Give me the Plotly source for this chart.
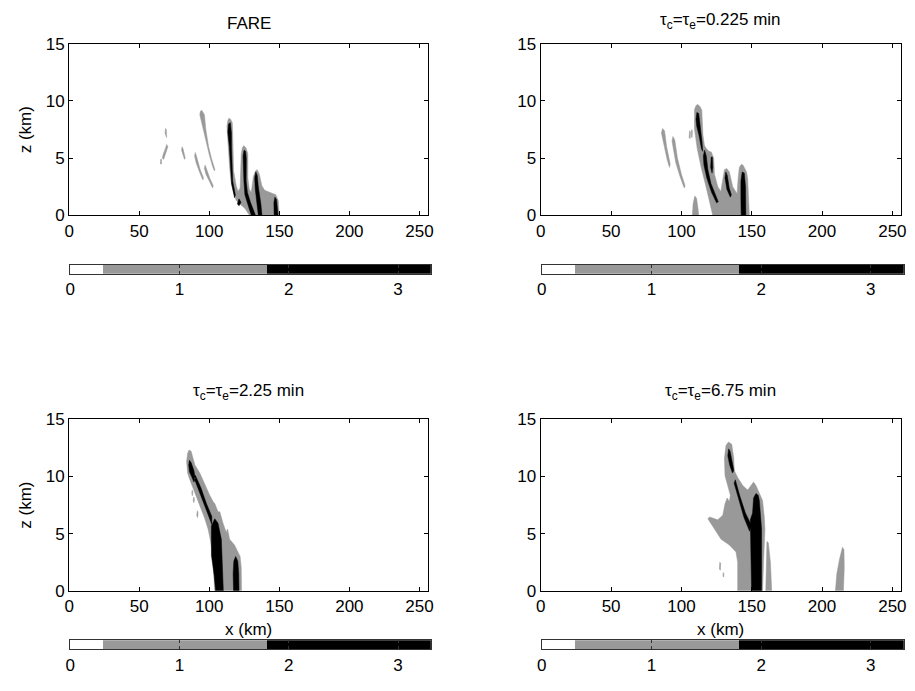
import plotly.graph_objects as go

W, H = 915, 691
GRAY = "#999999"

# ---------------- data ----------------
titles = ["FARE",
          "τ<sub>c</sub>=τ<sub>e</sub>=0.225 min",
          "τ<sub>c</sub>=τ<sub>e</sub>=2.25 min",
          "τ<sub>c</sub>=τ<sub>e</sub>=6.75 min"]
x_ticks = [0, 50, 100, 150, 200, 250]
z_ticks = [0, 5, 10, 15]
cbar_levels = [0, 0.3, 1.8, 3.3]
cbar_ticks = [0, 1, 2, 3]

# contour outlines (x km, z km)
fare_gray = [
    [(93.2, 8.8), (93.6, 9.1), (94.6, 9.2), (96.5, 8.8), (97.5, 7.5), (99.5, 6.0), (101.5, 5.0),
     (104.0, 4.0), (103.6, 3.9), (102.3, 4.3), (100.0, 5.3), (97.5, 6.5), (95.3, 7.6), (93.6, 8.4)],
    [(89.5, 5.2), (90.0, 5.5), (91.0, 5.1), (93.5, 4.0), (95.8, 3.3), (95.4, 3.1), (93.0, 3.8), (90.6, 4.6)],
    [(96.5, 4.1), (97.0, 4.4), (98.2, 4.0), (100.5, 3.2), (102.8, 2.6), (102.3, 2.4), (100.0, 3.0), (97.6, 3.6)],
    [(80.2, 5.7), (80.6, 6.0), (81.3, 5.8), (82.8, 5.0), (82.3, 4.9), (81.0, 5.3)],
    [(66.5, 5.0), (67.0, 5.3), (68.8, 5.9), (69.6, 6.2), (70.4, 6.0), (69.2, 5.5), (67.4, 4.9)],
    [(65.1, 4.5), (65.3, 4.9), (65.9, 4.9), (65.8, 4.5)],
    [(68.4, 7.2), (68.8, 7.6), (69.3, 7.5), (69.9, 6.9), (69.5, 6.8)],
    # main envelope
    [(128.7, 0.0), (125.5, 0.6), (122.8, 0.9), (119.2, 1.3), (116.9, 2.2), (115.7, 2.75), (114.5, 4.2),
     (113.3, 6.1), (112.6, 7.8), (113.2, 8.3), (114.0, 8.5), (115.2, 8.4), (116.4, 8.1), (116.9, 6.1),
     (117.3, 3.9), (119.2, 2.6), (120.5, 2.1), (122.0, 2.4), (122.1, 3.3), (122.8, 5.4), (123.6, 5.9),
     (124.6, 6.1), (126.2, 5.9), (127.5, 5.4), (127.5, 3.3), (128.5, 2.3), (129.9, 2.0), (130.5, 2.5),
     (131.5, 3.4), (133.0, 3.9), (134.2, 4.0), (135.7, 3.6), (137.5, 2.6), (139.5, 2.2), (141.6, 2.1),
     (143.5, 2.0), (145.5, 1.9), (147.5, 1.8), (149.2, 1.3), (149.9, 0.0)],
]
fare_black = [
    [(113.2, 7.3), (113.8, 8.0), (115.0, 8.1), (115.8, 7.2), (115.8, 6.0), (116.2, 4.5), (116.7, 3.0),
     (118.6, 1.8), (118.0, 1.55), (115.9, 2.8), (115.2, 4.5), (114.3, 6.0)],
    [(120.0, 1.0), (121.3, 0.85), (122.6, 1.15), (121.2, 1.45)],
    [(124.1, 5.2), (124.8, 5.7), (125.9, 5.6), (126.4, 5.0), (126.3, 3.0), (127.2, 2.0), (129.5, 1.1),
     (133.0, 0.0), (130.0, 0.0), (127.5, 0.9), (125.4, 1.8), (124.7, 3.0)],
    [(132.4, 3.3), (133.2, 3.8), (134.2, 3.5), (135.0, 2.5), (136.8, 1.0), (137.6, 0.0), (135.0, 0.0),
     (134.0, 1.0), (132.8, 2.3)],
    [(146.1, 1.1), (146.8, 1.6), (148.0, 1.4), (148.9, 0.5), (149.1, 0.0), (146.3, 0.0)],
]

tau0225_gray = [
    [(85.8, 7.2), (86.6, 7.6), (88.0, 7.4), (89.5, 6.0), (92.0, 4.5), (91.5, 4.2), (89.8, 4.9), (87.8, 6.0)],
    [(93.3, 6.5), (94.0, 6.9), (95.3, 6.6), (97.2, 5.0), (100.0, 3.6), (102.6, 2.6), (102.0, 2.4),
     (99.0, 3.4), (96.0, 4.6), (94.0, 5.8)],
    [(105.5, 6.8), (105.8, 7.4), (106.4, 7.3), (106.2, 6.7)],
    [(107.0, 6.9), (107.3, 7.5), (107.8, 7.4), (107.6, 6.8)],
    [(107.8, 0.0), (108.3, 1.0), (109.5, 1.7), (110.8, 1.5), (111.8, 0.6), (112.3, 0.0)],
    # main envelope
    [(122.3, 0.0), (120.0, 1.33), (117.6, 2.46), (114.1, 4.16), (111.2, 5.86), (109.3, 7.56), (109.3, 9.26),
     (110.4, 9.6), (111.7, 9.7), (113.3, 9.5), (114.5, 9.2), (115.3, 7.0), (116.4, 6.1), (117.6, 5.86),
     (119.5, 5.6), (121.2, 5.55), (123.0, 5.0), (123.5, 3.6), (125.9, 2.5), (128.0, 2.1), (129.6, 3.2),
     (130.6, 4.0), (132.2, 4.1), (134.1, 3.8), (136.5, 2.5), (139.6, 1.9), (140.3, 3.2), (141.2, 4.2),
     (142.5, 4.45), (143.8, 4.4), (146.3, 3.8), (147.1, 3.2), (147.6, 1.9), (148.3, 0.0)],
]
tau0225_black = [
    [(110.4, 8.4), (111.0, 9.0), (112.3, 8.9), (113.5, 7.8), (114.6, 6.5), (115.2, 5.6), (114.3, 5.8),
     (112.5, 7.0), (110.9, 7.8)],
    [(115.6, 5.2), (116.5, 5.7), (117.7, 5.2), (118.8, 4.0), (121.0, 2.8), (124.5, 1.7), (126.2, 1.2),
     (125.0, 1.1), (121.5, 2.0), (118.0, 3.3), (116.0, 4.4)],
    [(120.8, 4.2), (121.2, 5.1), (122.0, 5.1), (122.3, 4.2), (121.8, 3.7)],
    [(131.0, 3.3), (131.6, 3.8), (132.6, 3.5), (134.0, 2.4), (135.5, 1.8), (134.8, 1.6), (132.3, 2.3)],
    [(142.3, 3.0), (143.2, 3.8), (144.7, 3.7), (145.6, 2.5), (145.8, 0.0), (142.5, 0.0), (142.3, 1.5)],
]

tau225_gray = [
    [(103.9, 0.0), (103.0, 1.5), (102.5, 3.1), (100.5, 4.6), (99.1, 5.4), (96.5, 6.4), (93.2, 7.4),
     (90.5, 8.3), (87.8, 9.2), (86.1, 9.7), (84.5, 10.3), (83.8, 11.3), (84.5, 12.0), (85.5, 12.3),
     (87.0, 12.2), (88.3, 11.6), (89.7, 11.0), (93.2, 10.3), (95.6, 9.6), (98.0, 8.9), (100.3, 8.35),
     (102.7, 7.8), (104.0, 7.6), (106.2, 6.9), (107.5, 6.9), (109.8, 5.9), (112.1, 5.1), (113.0, 5.4),
     (114.5, 4.5), (118.0, 4.0), (120.4, 3.4), (122.0, 3.0), (122.8, 2.0), (123.0, 0.0)],
    [(88.5, 7.9), (88.9, 8.2), (89.4, 8.0), (89.0, 7.7)],
    [(91.0, 6.6), (91.5, 7.0), (92.0, 6.8), (91.6, 6.4)],
    [(87.5, 8.5), (87.8, 8.8), (88.2, 8.6), (87.9, 8.3)],
]
tau225_black = [
    [(85.3, 11.0), (85.8, 11.4), (87.0, 11.2), (89.0, 10.5), (90.0, 9.8), (89.0, 9.5), (87.3, 10.0), (85.8, 10.4)],
    [(89.3, 9.8), (93.0, 8.6), (97.0, 7.3), (100.5, 6.2), (101.8, 5.8), (101.8, 6.5), (98.0, 7.6),
     (94.0, 9.0), (90.0, 10.1)],
    [(104.5, 0.0), (103.4, 1.4), (101.5, 3.1), (101.5, 5.66), (103.9, 6.3), (106.2, 5.9), (108.6, 4.5),
     (109.6, 2.0), (110.0, 0.0)],
    [(117.3, 0.0), (117.0, 1.5), (117.5, 2.6), (118.8, 3.0), (120.3, 2.6), (121.0, 1.5), (121.2, 0.0)],
]

tau675_gray = [
    [(140.0, 0.0), (140.0, 2.5), (138.8, 3.4), (134.1, 4.0), (128.2, 4.5), (124.7, 5.2), (121.1, 5.8),
     (118.8, 6.3), (120.0, 6.45), (125.8, 6.2), (129.4, 6.6), (131.0, 7.6), (132.5, 8.1), (134.1, 7.8),
     (134.8, 8.35), (132.9, 9.2), (131.0, 10.05), (130.6, 11.6), (131.7, 12.7), (133.4, 13.0),
     (135.8, 12.8), (137.2, 11.6), (137.6, 10.5), (140.0, 9.9), (143.6, 9.2), (147.1, 8.8), (149.9, 9.2),
     (151.3, 9.5), (153.0, 9.2), (155.4, 8.6), (157.7, 7.9), (158.9, 6.5), (159.4, 5.4), (158.4, 2.5),
     (157.7, 0.0)],
    [(160.0, 0.0), (160.2, 2.5), (160.8, 4.3), (161.8, 4.2), (163.3, 2.5), (164.2, 0.0)],
    [(209.5, 0.0), (210.5, 1.5), (212.5, 2.8), (214.5, 3.8), (215.6, 3.6), (215.8, 2.0), (215.2, 0.0)],
    [(127.0, 1.9), (127.3, 2.5), (127.9, 2.4), (127.7, 1.8)],
    [(129.5, 1.3), (129.8, 1.6), (130.2, 1.5), (130.0, 1.2)],
]
tau675_black = [
    [(133.0, 11.8), (133.6, 12.4), (134.6, 12.2), (136.3, 11.2), (137.3, 10.5), (136.3, 10.3), (134.3, 11.0)],
    [(137.5, 9.4), (138.3, 9.7), (141.5, 8.3), (145.5, 6.8), (149.5, 5.8), (148.5, 5.2), (144.5, 6.4), (140.5, 8.0)],
    [(149.9, 0.0), (149.5, 2.5), (149.0, 6.2), (150.6, 6.8), (151.3, 8.1), (153.0, 8.5), (154.6, 8.35),
     (155.4, 7.9), (157.0, 5.4), (157.0, 0.0)],
]

panels = [(fare_gray, fare_black), (tau0225_gray, tau0225_black),
          (tau225_gray, tau225_black), (tau675_gray, tau675_black)]

# ---------------- layout geometry (pixels) ----------------
axes_px = [(65, 35.7, 428, 212.3), (542.3, 35.7, 906.7, 212.3),
           (65, 421.7, 428, 598.3), (542.3, 421.7, 906.7, 598.3)]
cbar_px = [(66, 263.3, 431, 272.3), (543.3, 263.3, 909.7, 272.3),
           (66, 649, 431, 658.3), (543.3, 649, 909.7, 658.3)]
# (y pixel, anchor) for each title
title_pos = [(15, "middle"), (-1, "top"), (394, "middle"), (394, "middle")]


def px_x(p):
    return p / W


def px_y(p):
    return 1 - p / H


def flatten(polys):
    xs, ys = [], []
    for poly in polys:
        for (a, b) in poly:
            xs.append(a)
            ys.append(b)
        xs.append(poly[0][0])
        ys.append(poly[0][1])
        xs.append(None)
        ys.append(None)
    return xs, ys


FONT = "Liberation Sans, Arial, Helvetica, sans-serif"
FS = 17
fig = go.Figure()
layout = dict(width=W, height=H, margin=dict(l=0, r=0, t=0, b=0),
              paper_bgcolor="white", plot_bgcolor="white", showlegend=False,
              font=dict(family=FONT, size=FS, color="black"))

annotations = []
for i, (gp, bp) in enumerate(panels):
    n = i + 1
    xa = "x" if n == 1 else f"x{n}"
    ya = "y" if n == 1 else f"y{n}"
    gx, gy = flatten(gp)
    bx, by = flatten(bp)
    fig.add_trace(go.Scatter(x=gx, y=gy, mode="lines", fill="toself", fillcolor=GRAY,
                             line=dict(color=GRAY, width=0.5), xaxis=xa, yaxis=ya, hoverinfo="skip"))
    fig.add_trace(go.Scatter(x=bx, y=by, mode="lines", fill="toself", fillcolor="black",
                             line=dict(color="black", width=0.5), xaxis=xa, yaxis=ya, hoverinfo="skip"))
    l, t, r, b = axes_px[i]
    common = dict(showline=True, linecolor="black", linewidth=1.2, mirror="ticks",
                  ticks="inside", ticklen=4, tickwidth=1, tickcolor="black",
                  showgrid=False, zeroline=False, tickfont=dict(size=FS, family=FONT))
    layout[f"xaxis{n}"] = dict(domain=[px_x(l), px_x(r)], range=[0, 256], tickvals=x_ticks,
                               anchor=ya, **common)
    layout[f"yaxis{n}"] = dict(domain=[px_y(b), px_y(t)], range=[0, 15], tickvals=z_ticks,
                               anchor=xa, **common)

    # colorbar
    m = n + 4
    cxa, cya = f"x{m}", f"y{m}"
    widths = [cbar_levels[k + 1] - cbar_levels[k] for k in range(3)]
    fig.add_trace(go.Bar(y=[0, 0, 0], x=widths, base=cbar_levels[:3], orientation="h",
                         marker=dict(color=["white", GRAY, "black"], line=dict(width=0)),
                         width=1, xaxis=cxa, yaxis=cya, hoverinfo="skip"))
    cl, ct, cr, cb = cbar_px[i]
    layout[f"xaxis{m}"] = dict(domain=[px_x(cl), px_x(cr)], range=[cbar_levels[0], cbar_levels[-1]],
                               tickvals=cbar_ticks, ticks="inside", ticklen=3, tickcolor="#333",
                               showline=True, linecolor="#333", linewidth=1, mirror="ticks",
                               showgrid=False, zeroline=False, anchor=cya,
                               tickfont=dict(size=FS, family=FONT))
    layout[f"yaxis{m}"] = dict(domain=[px_y(cb), px_y(ct)], range=[-0.5, 0.5], showticklabels=False,
                               ticks="", showline=True, linecolor="#333", linewidth=1, mirror=True,
                               showgrid=False, zeroline=False, anchor=cxa)

    # title
    cx = (l + r) / 2
    ty, anc = title_pos[i]
    annotations.append(dict(text=titles[i], x=px_x(cx), y=px_y(ty), xref="paper", yref="paper",
                            showarrow=False, xanchor="center", yanchor=anc,
                            font=dict(size=FS, family=FONT)))

# axis labels
for i in (0, 2):
    l, t, r, b = axes_px[i]
    annotations.append(dict(text="z (km)", x=px_x(21), y=px_y((t + b) / 2), xref="paper", yref="paper",
                            showarrow=False, textangle=-90, xanchor="center", yanchor="middle",
                            font=dict(size=FS, family=FONT)))
for i in (2, 3):
    l, t, r, b = axes_px[i]
    annotations.append(dict(text="x (km)", x=px_x((l + r) / 2), y=px_y(638), xref="paper", yref="paper",
                            showarrow=False, xanchor="center", yanchor="middle",
                            font=dict(size=FS, family=FONT)))

layout["annotations"] = annotations
layout["bargap"] = 0
fig.update_layout(**layout)
fig.write_html("out.html")
